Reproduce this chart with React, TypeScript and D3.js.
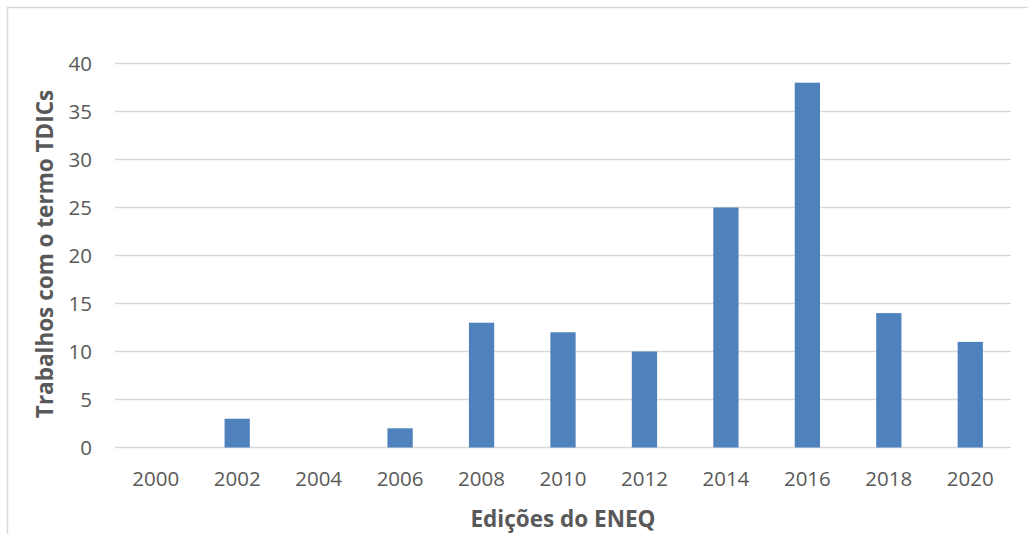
import React from "react";
import * as d3 from "d3";

const categories = ["2000", "2002", "2004", "2006", "2008", "2010", "2012", "2014", "2016", "2018", "2020"];
const values = [0, 3, 0, 2, 13, 12, 10, 25, 38, 14, 11];
const yTicks = [0, 5, 10, 15, 20, 25, 30, 35, 40];
const yTitle = "Trabalhos com o termo TDICs";
const xTitle = "Edições do ENEQ";

export default function App() {
  const W = 1028, H = 534;
  const left = 115, right = 1011, top = 63.5, bottom = 447.5;
  const x = d3.scaleBand<string>().domain(categories).range([left, right]).paddingInner(0.69).paddingOuter(0.345);
  const y = d3.scaleLinear().domain([0, 40]).range([bottom, top]);
  const font = "'Open Sans', sans-serif";
  const grey = "#595959";
  return (
    <svg width={W} height={H} style={{ position: "absolute", left: 0, top: 0, background: "#fff" }}>
      <rect x={7.5} y={7.5} width={1030} height={540} fill="#fff" stroke="#d9d9d9" strokeWidth={1.5} />
      {yTicks.map((t) => (
        <g key={t}>
          <line x1={left} x2={right} y1={y(t)} y2={y(t)} stroke="#d9d9d9" strokeWidth={1.5} />
          <text x={92} y={y(t)} dy="0.36em" textAnchor="end" fontFamily={font} fontSize={20.5} fill={grey}>{t}</text>
        </g>
      ))}
      {categories.map((c, i) => (
        <g key={c}>
          {values[i] > 0 && (
            <rect x={x(c)} y={y(values[i])} width={x.bandwidth()} height={y(0) - y(values[i])} fill="#4F81BD" />
          )}
          <text x={(x(c) as number) + x.bandwidth() / 2} y={479} dy="0.36em" textAnchor="middle" fontFamily={font} fontSize={20.5} fill={grey}>{c}</text>
        </g>
      ))}
      <text x={563} y={519} dy="0.36em" textAnchor="middle" fontFamily={font} fontSize={22.5} fontWeight="bold" fill={grey}>{xTitle}</text>
      <text transform={`translate(45,254) rotate(-90)`} dy="0.36em" textAnchor="middle" fontFamily={font} fontSize={22.5} fontWeight="bold" fill={grey}>{yTitle}</text>
    </svg>
  );
}
